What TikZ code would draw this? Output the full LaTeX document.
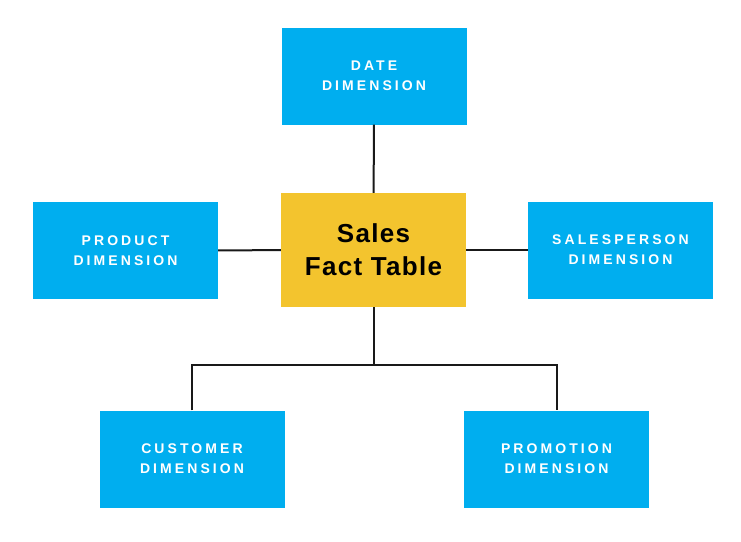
\documentclass[tikz,border=0pt]{standalone}
\usepackage{fontspec}
\setmainfont{Liberation Sans}
\newfontfamily\dimfont[LetterSpace=22]{Liberation Sans}
\newfontfamily\factfont[LetterSpace=5]{Liberation Sans}
\definecolor{dimblue}{HTML}{00AEEF}
\definecolor{factyellow}{HTML}{F3C42E}
\tikzset{
  dimbox/.style={fill=dimblue,draw=none,minimum width=185pt,minimum height=97pt,
    text=white,align=center,font=\dimfont\bfseries\fontsize{14}{20}\selectfont},
  factbox/.style={fill=factyellow,draw=none,minimum width=185pt,minimum height=114pt,
    align=center,font=\factfont\bfseries\fontsize{26}{33}\selectfont},
  link/.style={draw=black!90,line width=2pt}
}
\begin{document}
\begin{tikzpicture}[x=1pt,y=-1pt]
\useasboundingbox (0,0) rectangle (741,541);
\node[factbox] (fact) at (373.5,250) {Sales\\Fact Table};
\node[dimbox] (date) at (374,76) {DATE\\DIMENSION};
\node[dimbox] (product) at (125.5,250.5) {PRODUCT\\DIMENSION};
\node[dimbox] (salesperson) at (620.5,250) {SALESPERSON\\DIMENSION};
\node[dimbox] (customer) at (192,459) {CUSTOMER\\DIMENSION};
\node[dimbox] (promotion) at (556.5,459) {PROMOTION\\DIMENSION};
\coordinate (split) at (373.5,365);
\draw[link] (date) -- (fact);
\draw[link] (product) -- (fact);
\draw[link] (fact) -- (salesperson);
\draw[link] (fact) -- (split);
\draw[link] (customer) |- (split) -| (promotion);
\end{tikzpicture}
\end{document}
